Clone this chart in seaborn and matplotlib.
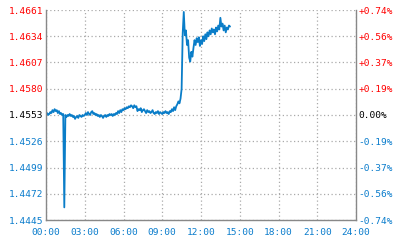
import matplotlib
matplotlib.use("Agg")
import matplotlib.pyplot as plt
import seaborn as sns
import pandas as pd

# ---- data (5-minute samples) ----
prices = [
    1.4554, 1.4555, 1.4553, 1.4554, 1.4556, 1.4555, 1.4558, 1.4556, 1.4559, 1.4557, 1.4558, 1.4555,  # 00h
    1.4557, 1.4554, 1.4555, 1.4553, 1.4554, 1.4458, 1.4553, 1.4551, 1.4553, 1.4552, 1.4554, 1.4552,  # 01h
    1.4553, 1.4551, 1.4552, 1.4549, 1.4551, 1.4552, 1.4550, 1.4553, 1.4552, 1.4551, 1.4553, 1.4552,  # 02h
    1.4553, 1.4555, 1.4553, 1.4556, 1.4554, 1.4553, 1.4556, 1.4557, 1.4554, 1.4555, 1.4553, 1.4554,  # 03h
    1.4552, 1.4553, 1.4551, 1.4553, 1.4552, 1.4550, 1.4552, 1.4553, 1.4551, 1.4553, 1.4552, 1.4554,  # 04h
    1.4553, 1.4554, 1.4552, 1.4554, 1.4553, 1.4555, 1.4554, 1.4557, 1.4555, 1.4558, 1.4556, 1.4559,  # 05h
    1.4558, 1.4560, 1.4559, 1.4561, 1.4560, 1.4562, 1.4561, 1.4563, 1.4562, 1.4560, 1.4563, 1.4561,  # 06h
    1.4562, 1.4557, 1.4559, 1.4558, 1.4560, 1.4556, 1.4558, 1.4559, 1.4557, 1.4555, 1.4558, 1.4556,  # 07h
    1.4557, 1.4555, 1.4556, 1.4558, 1.4555, 1.4554, 1.4556, 1.4555, 1.4557, 1.4554, 1.4556, 1.4555,  # 08h
    1.4554, 1.4556, 1.4555, 1.4557, 1.4555, 1.4556, 1.4554, 1.4557, 1.4556, 1.4559, 1.4557, 1.4561,  # 09h
    1.4558, 1.4562, 1.4564, 1.4567, 1.4565, 1.4570, 1.4580, 1.4637, 1.4659, 1.4635, 1.4640, 1.4625,  # 10h
    1.4630, 1.4612, 1.4608, 1.4618, 1.4613, 1.4622, 1.4630, 1.4625, 1.4632, 1.4628, 1.4633, 1.4624,  # 11h
    1.4630, 1.4626, 1.4634, 1.4629, 1.4636, 1.4631, 1.4638, 1.4634, 1.4640, 1.4636, 1.4642, 1.4638,  # 12h
    1.4641, 1.4636, 1.4643, 1.4639, 1.4645, 1.4641, 1.4653, 1.4644, 1.4647, 1.4640, 1.4645, 1.4638,  # 13h
    1.4643, 1.4641, 1.4645, 1.4644,                                                                  # 14h
]
minutes = [5 * i for i in range(len(prices))]

prev_close = 1.4553
y_ticks = [1.4445, 1.4472, 1.4499, 1.4526, 1.4553, 1.4580, 1.4607, 1.4634, 1.4661]
pct_labels = ["-0.74%", "-0.56%", "-0.37%", "-0.19%", "0.00%",
              "+0.19%", "+0.37%", "+0.56%", "+0.74%"]
x_ticks = [0, 3, 6, 9, 12, 15, 18, 21, 24]
x_labels = ["00:00", "03:00", "06:00", "09:00", "12:00", "15:00", "18:00", "21:00", "24:00"]

df = pd.DataFrame({"hour": [m / 60 for m in minutes], "price": prices})

sns.set_style("white")
plt.rcParams["font.family"] = ["DejaVu Sans Mono"]

RED = "#ff0000"
BLUE = "#0a7ccc"
LINE = "#0a7dc8"
GRID = "#aaaaaa"

fig = plt.figure(figsize=(4.07, 2.5), dpi=100)
ax = fig.add_axes([46 / 407, 30 / 250, 310 / 407, 210 / 250])

sns.lineplot(data=df, x="hour", y="price", ax=ax, color=LINE, linewidth=1.3)

ax.set_xlim(0, 24)
ax.set_ylim(y_ticks[0], y_ticks[-1])
ax.set_xticks(x_ticks)
ax.set_xticklabels(x_labels)
ax.set_yticks(y_ticks)
ax.set_yticklabels([f"{v:.4f}" for v in y_ticks])
ax.set_xlabel("")
ax.set_ylabel("")

ax.grid(True, color=GRID, linestyle=(0, (1, 2)), linewidth=0.9)
ax.set_axisbelow(True)
for s in ["left", "bottom", "right"]:
    ax.spines[s].set_color("#888888")
    ax.spines[s].set_linewidth(1.0)
ax.spines["top"].set_visible(False)

ax.tick_params(axis="both", length=0, labelsize=6.8)
ax.tick_params(axis="y", pad=2)
ax.tick_params(axis="x", pad=6)
for lab in ax.get_xticklabels():
    lab.set_color(BLUE)
for v, lab in zip(y_ticks, ax.get_yticklabels()):
    lab.set_color(RED if v > prev_close + 1e-9 else (BLUE if v < prev_close - 1e-9 else "black"))

ax2 = ax.twinx()
ax2.set_ylim(ax.get_ylim())
ax2.set_yticks(y_ticks)
ax2.set_yticklabels(pct_labels)
ax2.tick_params(axis="y", length=0, labelsize=6.8, pad=2)
for s in ax2.spines.values():
    s.set_visible(False)
for v, lab in zip(y_ticks, ax2.get_yticklabels()):
    lab.set_color(RED if v > prev_close + 1e-9 else (BLUE if v < prev_close - 1e-9 else "black"))

fig.savefig("out.png", dpi=100)
